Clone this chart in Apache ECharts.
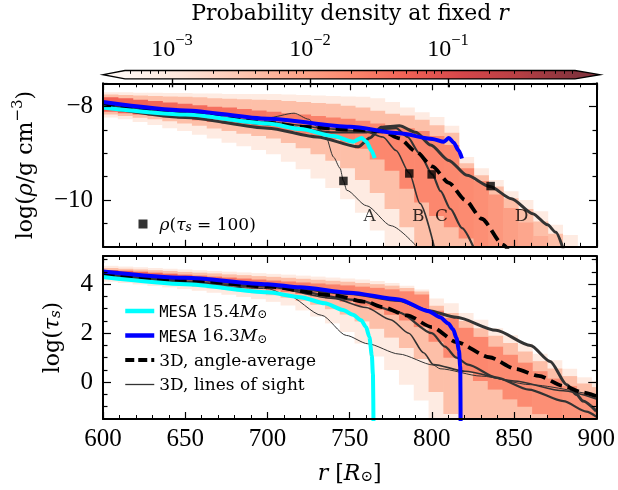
<!DOCTYPE html>
<html><head><meta charset="utf-8">
<script src="https://cdn.jsdelivr.net/npm/echarts@6/dist/echarts.min.js"></script>
<style>html,body{margin:0;padding:0;background:#fff}#c{width:618px;height:490px}</style>
</head><body><div id="c"></div>
<script>
// ---------------- data ----------------
const CB_MIN = -3.34, CB_MAX = -0.08;          // log10 density range of colour bar
const cbMajor = [-3, -2, -1];
const cbMinorDensity = [5e-4,6e-4,7e-4,8e-4,9e-4,2e-3,3e-3,4e-3,5e-3,6e-3,7e-3,8e-3,9e-3,
  2e-2,3e-2,4e-2,5e-2,6e-2,7e-2,8e-2,9e-2,0.2,0.3,0.4,0.5,0.6,0.7,0.8];

const BIN_W = 9;
const binLeft = [600,609,618,627,636,645,654,663,672,681,690,699,708,717,726,735,744,753,762,771,
  780,789,798,807,816,825,834,843,852,861,870,879,888,897];
const EXP_FAINT = -3.05, EXP_MID = -2.4;
// per column: [faintTop, midTop, coreTop, coreBot, midBot, faintBot, coreLog10Density]
const rhoBands = [
 [-7.69,-7.74,-7.80,-8.11,-8.17,-8.23,-1.3],[-7.69,-7.75,-7.82,-8.14,-8.20,-8.27,-1.3],
 [-7.70,-7.76,-7.85,-8.17,-8.24,-8.33,-1.3],[-7.70,-7.77,-7.88,-8.20,-8.27,-8.39,-1.35],
 [-7.71,-7.78,-7.91,-8.23,-8.31,-8.46,-1.35],[-7.71,-7.79,-7.94,-8.26,-8.36,-8.52,-1.4],
 [-7.72,-7.80,-7.97,-8.29,-8.41,-8.60,-1.4],[-7.72,-7.82,-8.00,-8.33,-8.47,-8.68,-1.45],
 [-7.73,-7.83,-8.02,-8.37,-8.52,-8.77,-1.45],[-7.73,-7.84,-8.05,-8.41,-8.58,-8.85,-1.5],
 [-7.73,-7.85,-8.08,-8.44,-8.63,-8.93,-1.5],[-7.73,-7.86,-8.11,-8.48,-8.68,-9.02,-1.55],
 [-7.74,-7.88,-8.14,-8.52,-8.78,-9.18,-1.6],[-7.75,-7.90,-8.17,-8.58,-8.89,-9.34,-1.6],
 [-7.76,-7.92,-8.20,-8.63,-9.02,-9.54,-1.65],[-7.77,-7.94,-8.23,-8.69,-9.16,-9.74,-1.65],
 [-7.78,-7.98,-8.26,-8.77,-9.32,-9.98,-1.65],[-7.79,-8.02,-8.30,-8.90,-9.57,-10.27,-1.7],
 [-7.82,-8.09,-8.36,-9.13,-9.85,-10.65,-1.7],[-7.90,-8.15,-8.40,-9.37,-10.19,-11.15,-1.7],
 [-8.02,-8.19,-8.46,-9.76,-10.58,-11.15,-1.7],[-8.12,-8.28,-8.52,-10.05,-11.15,-11.15,-1.7],
 [-8.22,-8.40,-8.63,-10.34,-11.15,-11.15,-1.7],[-8.41,-8.56,-8.82,-10.58,-11.15,-11.15,-1.72],
 [-9.08,-9.21,-9.32,-10.82,-11.15,-11.15,-1.75],[-9.32,-9.47,-9.59,-11.15,-11.15,-11.15,-1.8],
 [-9.57,-9.71,-9.88,-11.15,-11.15,-11.15,-1.9],[-9.81,-9.96,-10.17,-11.15,-11.15,-11.15,-2.0],
 [-10.00,-10.19,-10.48,-11.15,-11.15,-11.15,-2.1],[-10.24,-10.46,-10.77,-11.15,-11.15,-11.15,-2.2],
 [-10.53,-10.72,-11.15,-11.15,-11.15,-11.15,-2.2],[-10.75,-11.15,-11.15,-11.15,-11.15,-11.15,-2.2]
];
const tauBands = [
 [4.75,4.66,4.58,4.28,4.20,4.10,-1.3],[4.72,4.63,4.55,4.24,4.16,4.05,-1.3],
 [4.69,4.60,4.51,4.20,4.11,3.99,-1.3],[4.66,4.57,4.47,4.15,4.06,3.93,-1.35],
 [4.63,4.54,4.43,4.11,4.01,3.87,-1.35],[4.60,4.50,4.39,4.06,3.95,3.80,-1.4],
 [4.57,4.47,4.35,4.01,3.89,3.73,-1.4],[4.54,4.44,4.31,3.96,3.83,3.65,-1.45],
 [4.51,4.40,4.27,3.91,3.77,3.57,-1.45],[4.48,4.37,4.23,3.86,3.70,3.48,-1.5],
 [4.45,4.33,4.19,3.81,3.63,3.39,-1.5],[4.42,4.30,4.15,3.75,3.55,3.28,-1.55],
 [4.39,4.26,4.11,3.68,3.45,3.13,-1.6],[4.35,4.22,4.07,3.60,3.32,2.93,-1.6],
 [4.31,4.18,4.03,3.50,3.16,2.68,-1.65],[4.27,4.14,3.99,3.40,2.98,2.40,-1.65],
 [4.23,4.10,3.95,3.28,2.76,2.05,-1.65],[4.19,4.05,3.90,3.12,2.48,1.58,-1.7],
 [4.13,4.00,3.85,2.95,2.18,1.05,-1.7],[4.05,3.94,3.79,2.75,1.82,0.50,-1.7],
 [3.94,3.84,3.71,2.52,1.40,-0.10,-1.7],[3.78,3.70,3.58,2.25,0.95,-0.75,-1.7],
 [3.42,3.12,2.92,1.65,-0.40,-1.7,-1.7],[3.22,2.82,2.62,1.00,-1.30,-1.7,-1.7],
 [2.82,2.50,2.22,0.40,-1.7,-1.7,-1.7],[2.55,2.20,1.85,0.05,-1.7,-1.7,-1.7],
 [2.20,1.90,1.45,-0.30,-1.7,-1.7,-1.75],[1.92,1.60,1.12,-0.70,-1.7,-1.7,-1.75],
 [1.57,1.25,0.80,-1.00,-1.7,-1.7,-1.75],[1.16,0.86,0.45,-1.30,-1.7,-1.7,-1.8],
 [0.90,0.56,0.15,-1.7,-1.7,-1.7,-1.8],[0.55,0.25,-0.15,-1.7,-1.7,-1.7,-1.85],
 [0.20,-0.05,-0.40,-1.7,-1.7,-1.7,-1.85],[0.05,-0.20,-0.55,-1.7,-1.7,-1.7,-1.85]
];

// top panel: log(rho) profiles
const mesa154Rho = [[600,-8.02],[650,-8.17],[700,-8.36],[720,-8.48],[740,-8.63],[752,-8.75],[757,-8.67],[760,-8.75],[763,-8.94],[765,-9.10]];
const mesa163Rho = [[600,-7.90],[650,-8.08],[700,-8.26],[750,-8.43],[780,-8.57],[800,-8.69],[807,-8.75],[810,-8.67],[813,-8.77],[816,-8.94],[818,-9.11]];
const avgRho = [[600,-7.95],[650,-8.14],[700,-8.34],[720,-8.43],[750,-8.49],[770,-8.53],[780,-8.68],[790,-8.96],[800,-9.28],[810,-9.63],[820,-10.0],[830,-10.40],[843,-10.96],[846,-11.06]];
const losRhoA = [[600,-7.94],[650,-8.12],[700,-8.24],[716,-8.14],[725,-8.27],[730,-8.43],[735,-8.60],[740,-9.08],[744,-9.32],[746,-9.59],[748,-9.79],[760,-10.12],[775,-10.55],[792,-11.05]];
const losRhoB = [[600,-7.94],[650,-8.14],[700,-8.33],[740,-8.48],[760,-8.54],[770,-8.65],[778,-8.94],[786,-9.42],[792.5,-10.07],[801.5,-11.05]];
const losRhoC = [[600,-7.96],[650,-8.17],[700,-8.38],[740,-8.55],[760,-8.55],[770,-8.48],[778,-8.46],[785,-8.65],[792,-8.99],[800,-9.45],[805,-9.81],[811,-10.19],[818,-10.60],[825.5,-11.05]];
const losRhoD = [[600,-8.00],[650,-8.23],[700,-8.46],[730,-8.65],[755,-8.86],[762,-8.67],[769,-8.44],[780,-8.41],[790,-8.55],[799,-8.82],[810,-9.15],[821,-9.47],[835,-9.71],[848,-9.97],[861,-10.29],[870,-10.53],[875,-10.69],[879.5,-11.05]];
const rhoTau100 = [[746,-9.59],[786,-9.43],[799.6,-9.45],[835.4,-9.70]];
const losNames = ['A','B','C','D'];
const losNameR = [762, 791.5, 805.6, 854.2];
const losNameRho = -10.36;

// bottom panel: log(tau_s) profiles
const mesa154Tau = [[600,4.29],[650,4.0],[700,3.67],[720,3.47],[735,3.22],[746,2.95],[752,2.75],[757,2.53],[760,2.25],[762,1.85],[763.5,1.1],[764.2,0.3],[764.5,-1.6]];
const mesa163Tau = [[600,4.52],[650,4.26],[700,4.0],[720,3.87],[750,3.65],[780,3.38],[798,2.9],[805,2.65],[810,2.4],[813,2.15],[815,1.8],[816.5,1.3],[817.3,0.6],[817.5,-1.6]];
const avgTau = [[600,4.42],[650,4.17],[700,3.9],[740,3.55],[760,3.28],[770,3.07],[785,2.73],[800,2.25],[815,1.64],[835,1.02],[851,0.54],[865,0.26],[880,-0.15],[892,-0.42],[900,-0.57]];
const losTauA = [[600,4.38],[700,3.82],[712,3.56],[733,2.73],[748,1.91],[761,1.57],[780,1.15],[801,0.7],[805,0.55],[830,0.25],[860,-0.1],[900,-0.55]];
const losTauB = [[600,4.4],[700,3.9],[740,3.42],[760,3.05],[775,2.55],[786,2.0],[795,1.2],[801,0.72],[820,0.45],[850,0.05],[880,-0.35],[900,-0.68]];
const losTauC = [[600,4.4],[700,3.92],[755,3.35],[780,2.85],[800,2.0],[808,1.45],[815,1.0],[822,0.72],[839,0.2],[859,-0.3],[880,-0.77],[894,-1.2],[900,-1.4]];
const losTauD = [[600,4.47],[650,4.22],[700,3.97],[750,3.62],[780,3.33],[798,2.92],[815,2.65],[839,2.12],[860,1.5],[872,0.85],[882,-0.1],[888,-0.5],[892,-0.77],[900,-1.18]];

const rhoMajor = [-10, -8], rhoMinor = [-10.5,-9.5,-9,-8.5,-7.5];
const tauMajor = [0, 2, 4], tauMinor = [-1,-0.5,0.5,1,1.5,2.5,3,3.5,4.5,5];

// ---------------- styling helpers ----------------
const SERIF = 'DejaVu Serif', NUM = 'Liberation Serif', MONO = 'DejaVu Sans Mono';
const redsStops = [[255,245,240],[254,224,210],[252,187,161],[252,146,114],[251,106,74],[239,59,44],[203,24,29],[165,15,21],[103,0,13]];
function cmap(t){
  t = Math.max(0, Math.min(1, t));
  const s = t*8, i = Math.min(7, Math.floor(s)), f = s - i;
  const a = redsStops[i], b = redsStops[i+1];
  const c = a.map((v,k)=> v + (b[k]-v)*f).map(v => Math.round(0.8*v + 0.2*255));
  return 'rgb(' + c.join(',') + ')';
}
const colorOfExp = e => cmap((e - CB_MIN)/(CB_MAX - CB_MIN));

function buildCells(bands){
  const lv = [[], [], []];
  bands.forEach((b,k)=>{
    const x0 = binLeft[k], x1 = binLeft[k] + BIN_W;
    lv[0].push([x0,x1,b[0],b[5],EXP_FAINT]);
    lv[1].push([x0,x1,b[1],b[4],EXP_MID]);
    lv[2].push([x0,x1,b[2],b[3],b[6]]);
  });
  return lv[0].concat(lv[1], lv[2]).filter(c => c[2] > c[3]);
}
function heatRender(params, api){
  const p0 = api.coord([api.value(0), api.value(2)]);
  const p1 = api.coord([api.value(1), api.value(3)]);
  return {type:'rect', shape:{x:p0[0], y:p0[1], width:p1[0]-p0[0]+0.6, height:p1[1]-p0[1]},
          style:{fill: colorOfExp(api.value(4))}};
}

const rich = {
  t:  {fontFamily:SERIF, fontSize:22, color:'#000', lineHeight:26, verticalAlign:'bottom'},
  it: {fontFamily:SERIF, fontSize:22, fontStyle:'italic', color:'#000', lineHeight:26, verticalAlign:'bottom'},
  sup:{fontFamily:SERIF, fontSize:15, color:'#000', lineHeight:15, padding:[0,0,11,0], verticalAlign:'bottom'},
  sub:{fontFamily:SERIF, fontSize:15, color:'#000', lineHeight:16, verticalAlign:'bottom'},
  subi:{fontFamily:SERIF, fontSize:15, fontStyle:'italic', color:'#000', lineHeight:16, verticalAlign:'bottom'}
};
const lrich = {
  t:  {fontFamily:SERIF, fontSize:17, color:'#000', lineHeight:20, verticalAlign:'bottom'},
  it: {fontFamily:SERIF, fontSize:17, fontStyle:'italic', color:'#000', lineHeight:20, verticalAlign:'bottom'},
  m:  {fontFamily:MONO, fontSize:15.5, color:'#000', lineHeight:20, verticalAlign:'bottom'},
  sub:{fontFamily:SERIF, fontSize:12, color:'#000', lineHeight:13, verticalAlign:'bottom'},
  subi:{fontFamily:SERIF, fontSize:12, fontStyle:'italic', color:'#000', lineHeight:13, verticalAlign:'bottom'},
  gap:{width:7, lineHeight:20}
};
const minus = v => (v < 0 ? '\u2212' : '') + Math.abs(v);

function xAxisPanel(gi, pos, labels){
  return {type:'value', gridIndex:gi, position:pos, min:600, max:900, interval:50,
    axisLine:{show:true, onZero:false, lineStyle:{color:'#000', width:2}},
    axisTick:{show:true, inside:true, length:7, lineStyle:{color:'#000', width:1.2}},
    minorTick:{show:true, splitNumber:5, length:4, lineStyle:{color:'#000', width:1}},
    axisLabel:{show:labels, margin:8, fontFamily:NUM, fontSize:25, color:'#000'},
    splitLine:{show:false}, minorSplitLine:{show:false}, z:10};
}
function yAxisPanel(gi, pos, min, max, ticks, len, labels, lineShow){
  return {type:'value', gridIndex:gi, position:pos, min:min, max:max,
    axisLine:{show:lineShow, onZero:false, lineStyle:{color:'#000', width:2}},
    axisTick:{show:true, inside:true, length:len, customValues:ticks, lineStyle:{color:'#000', width:1.2}},
    axisLabel:{show:labels, customValues:ticks, margin:10, fontFamily:NUM, fontSize:25, color:'#000', formatter:minus},
    splitLine:{show:false}, z:10};
}
const DASH = [12, 6];
function line(name, data, xi, yi, color, width, dash, z){
  return {type:'line', name:name, data:data, xAxisIndex:xi, yAxisIndex:yi, symbol:'none', showSymbol:false,
    smooth:0.25, smoothMonotone:'x', clip:true, z:z, silent:true,
    itemStyle:{color:color},
    lineStyle:{color:color, width:width, type: dash ? DASH : 'solid', cap:'butt', join:'round'}};
}
const LOS = '#333333';
const hiddenSymbol = {color:'rgba(0,0,0,0)', borderColor:'rgba(0,0,0,0)', borderWidth:0, opacity:0};

const option = {
  animation:false, backgroundColor:'#fff',
  grid:[
    {left:125, top:70.5, width:450, height:8.4},
    {left:103, top:83.3, width:494, height:163.5},
    {left:103, top:256, width:494, height:163}
  ],
  xAxis:[
    {type:'value', gridIndex:0, position:'top', min:CB_MIN, max:CB_MAX,
     axisLine:{show:false},
     axisTick:{show:true, inside:true, length:8.4, customValues:cbMajor, lineStyle:{color:'#000', width:1.4}},
     axisLabel:{show:true, customValues:cbMajor, margin:9,
       formatter: v => '{b|10}{s|\u2212' + Math.abs(v) + '}',
       rich:{b:{fontFamily:NUM, fontSize:24, color:'#000', lineHeight:25, verticalAlign:'bottom'},
             s:{fontFamily:NUM, fontSize:16.5, color:'#000', lineHeight:16, padding:[0,0,12,0], verticalAlign:'bottom'}}},
     splitLine:{show:false}, z:10,
     name:'{t|Probability density at fixed }{it|r}', nameLocation:'middle', nameGap:45,
     nameTextStyle:{rich:rich}},
    {type:'value', gridIndex:0, position:'top', min:CB_MIN, max:CB_MAX,
     axisLine:{show:false},
     axisTick:{show:true, inside:true, length:3.3, customValues:cbMinorDensity.map(Math.log10), lineStyle:{color:'#000', width:1}},
     axisLabel:{show:false}, splitLine:{show:false}, z:10},
    xAxisPanel(1,'bottom',false), xAxisPanel(1,'top',false),
    Object.assign(xAxisPanel(2,'bottom',true), {name:'{it|r}{t| [}{it|R}{sub|\u2299}{t|]}', nameLocation:'middle', nameGap:40, nameTextStyle:{rich:rich}}),
    xAxisPanel(2,'top',false)
  ],
  yAxis:[
    {type:'value', gridIndex:0, min:0, max:1, show:false},
    Object.assign(yAxisPanel(1,'left',-11,-7.5,rhoMajor,8,true,true),
      {name:'{t|log(}{it|ρ}{t|/g cm}{sup|\u22123}{t|)}', nameLocation:'middle', nameRotate:90, nameGap:66, nameTextStyle:{rich:rich}}),
    yAxisPanel(1,'right',-11,-7.5,rhoMajor,8,false,true),
    yAxisPanel(1,'left',-11,-7.5,rhoMinor,4.5,false,false),
    yAxisPanel(1,'right',-11,-7.5,rhoMinor,4.5,false,false),
    Object.assign(yAxisPanel(2,'left',-1.5,5.15,tauMajor,8,true,true),
      {name:'{t|log(}{it|τ}{subi|s}{t|)}', nameLocation:'middle', nameRotate:90, nameGap:39, nameTextStyle:{rich:rich}}),
    yAxisPanel(2,'right',-1.5,5.15,tauMajor,8,false,true),
    yAxisPanel(2,'left',-1.5,5.15,tauMinor,4.5,false,false),
    yAxisPanel(2,'right',-1.5,5.15,tauMinor,4.5,false,false)
  ],
  legend:[
    {data:['rho100'], left:133.5, top:212, itemWidth:9, itemHeight:9, selectedMode:false,
     formatter:()=> '{gap| }{it|ρ}{t|(}{it|τ}{subi|s}{t| = 100)}', textStyle:{rich:lrich}},
    {data:[
       {name:'MESA 15.4', lineStyle:{width:4.5}},
       {name:'MESA 16.3', lineStyle:{width:4.5}},
       {name:'3D, angle-average', lineStyle:{width:4, type:[9,4]}},
       {name:'3D, lines of sight', lineStyle:{width:1.3}}],
     orient:'vertical', left:118, top:299, itemWidth:29, itemHeight:14, itemGap:7.5, selectedMode:false,
     itemStyle:hiddenSymbol,
     formatter: n => ({
       'MESA 15.4':'{m|MESA}{t| 15.4}{it|M}{sub|\u2299}',
       'MESA 16.3':'{m|MESA}{t| 16.3}{it|M}{sub|\u2299}',
       '3D, angle-average':'{t|3D, angle-average}',
       '3D, lines of sight':'{t|3D, lines of sight}'})[n],
     textStyle:{rich:lrich}}
  ],
  series:[
    {type:'custom', xAxisIndex:0, yAxisIndex:0, clip:false, silent:true, z:2,
     data:[[CB_MIN, CB_MAX, 0, 1]], encode:{x:[0,1], y:[2,3]},
     renderItem:(params, api)=>{
       const a = api.coord([api.value(0), api.value(2)]), b = api.coord([api.value(1), api.value(3)]);
       const x0=a[0], x1=b[0], yB=a[1], yT=b[1], ym=(yB+yT)/2;
       const stops = redsStops.map((c,i)=>({offset:i/8, color:cmap(i/8)}));
       return {type:'group', children:[
         {type:'rect', shape:{x:x0, y:yT, width:x1-x0, height:yB-yT},
          style:{fill:{type:'linear', x:0, y:0, x2:1, y2:0, colorStops:stops}}},
         {type:'polygon', shape:{points:[[x0+0.5,yT],[x0-22,ym],[x0+0.5,yB]]}, style:{fill:cmap(0)}},
         {type:'polygon', shape:{points:[[x1-0.5,yT],[x1+25,ym],[x1-0.5,yB]]}, style:{fill:cmap(1)}},
         {type:'polygon', shape:{points:[[x0,yT],[x1,yT],[x1+25,ym],[x1,yB],[x0,yB],[x0-22,ym]]},
          style:{fill:null, stroke:'#000', lineWidth:1.3}}
       ]};
     }},
    {type:'custom', xAxisIndex:2, yAxisIndex:1, clip:true, silent:true, z:1,
     data:buildCells(rhoBands), encode:{x:[0,1], y:[2,3]}, renderItem:heatRender},
    {type:'custom', xAxisIndex:4, yAxisIndex:5, clip:true, silent:true, z:1,
     data:buildCells(tauBands), encode:{x:[0,1], y:[2,3]}, renderItem:heatRender},

    line('losA top', losRhoA, 2, 1, LOS, 1.0, false, 3),
    line('losB top', losRhoB, 2, 1, LOS, 1.6, false, 3),
    line('losC top', losRhoC, 2, 1, LOS, 2.2, false, 3),
    line('losD top', losRhoD, 2, 1, LOS, 3.0, false, 3),
    line('avg top', avgRho, 2, 1, '#000', 3.8, true, 4),
    line('m154 top', mesa154Rho, 2, 1, '#00ffff', 4, false, 5),
    line('m163 top', mesa163Rho, 2, 1, '#0000ff', 4, false, 6),

    line('3D, lines of sight', losTauA, 4, 5, LOS, 1.0, false, 3),
    line('losB bot', losTauB, 4, 5, LOS, 1.6, false, 3),
    line('losC bot', losTauC, 4, 5, LOS, 2.2, false, 3),
    line('losD bot', losTauD, 4, 5, LOS, 3.0, false, 3),
    line('3D, angle-average', avgTau, 4, 5, '#000', 3.8, true, 4),
    line('MESA 15.4', mesa154Tau, 4, 5, '#00ffff', 4, false, 5),
    line('MESA 16.3', mesa163Tau, 4, 5, '#0000ff', 4, false, 6),

    {type:'scatter', name:'rho100', xAxisIndex:2, yAxisIndex:1, data:rhoTau100, symbol:'rect', symbolSize:8.5,
     itemStyle:{color:'#000'}, z:8, silent:true},
    {type:'scatter', name:'labels', xAxisIndex:2, yAxisIndex:1, symbolSize:0, z:8, silent:true,
     data: losNames.map((n,i)=>[losNameR[i], losNameRho, n]),
     label:{show:true, position:'inside', formatter:p=>p.value[2], fontFamily:SERIF, fontSize:17, color:'#000'}}
  ]
};
const chart = echarts.init(document.getElementById('c'), null, {renderer:'canvas'});
chart.setOption(option);
</script></body></html>
